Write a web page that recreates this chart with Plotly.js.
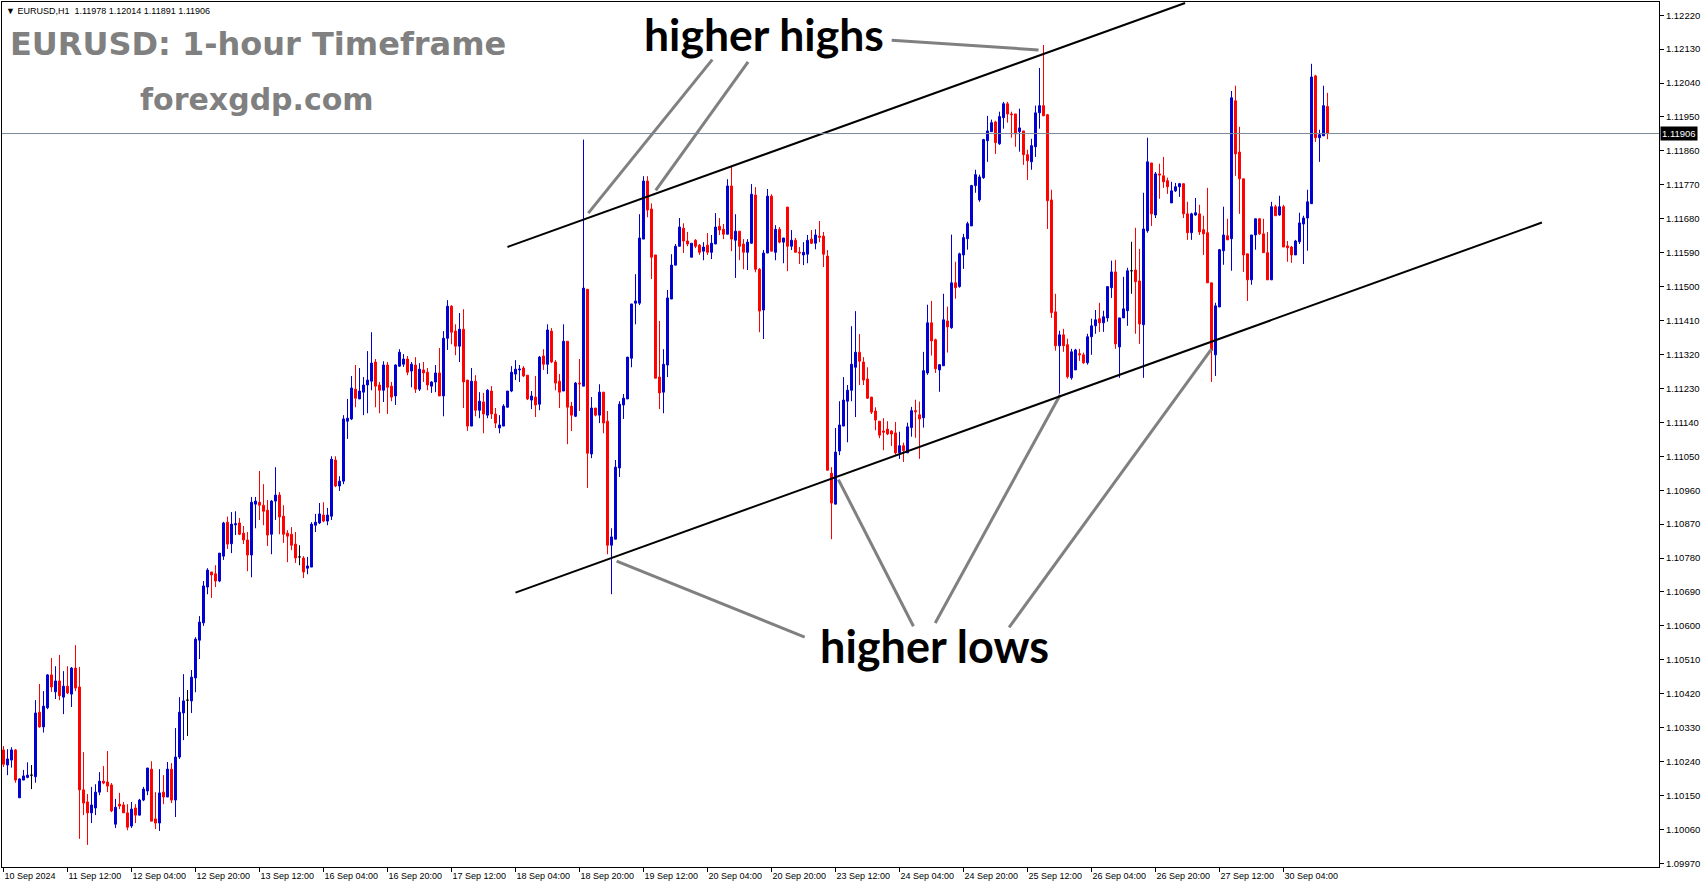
<!DOCTYPE html>
<html>
<head>
<meta charset="utf-8">
<script src="https://cdn.plot.ly/plotly-3.0.1.min.js"></script>
<style>
html,body{margin:0;padding:0;background:#fff;}
#chart{width:1705px;height:888px;}
</style>
</head>
<body>
<div id="chart"></div>
<script>
// ---- Data: EURUSD H1 bars (open, high, low, close) ----
const symbol = "EURUSD,H1";
const openP = [
1.10271,1.10231,1.10244,1.10271,1.10144,1.10191,1.10198,1.10204,1.10200,1.10371,
1.10332,1.10383,1.10470,1.10425,1.10454,1.10411,1.10440,1.10419,1.10488,1.10438,
1.10165,1.10133,1.10104,1.10117,1.10159,1.10188,1.10186,1.10178,1.10074,1.10127,
1.10125,1.10104,1.10069,1.10117,1.10098,1.10138,1.10162,1.10220,1.10088,1.10077,
1.10159,1.10146,1.10220,1.10138,1.10252,1.10369,1.10403,1.10401,1.10462,1.10562,
1.10608,1.10703,1.10743,1.10738,1.10719,1.10785,1.10875,1.10818,1.10868,1.10873,
1.10846,1.10828,1.10788,1.10923,1.10928,1.10920,1.10907,1.10843,1.10931,1.10947,
1.10891,1.10846,1.10843,1.10817,1.10783,1.10780,1.10753,1.10756,1.10867,1.10873,
1.10894,1.10878,1.10891,1.11040,1.10971,1.10984,1.11143,1.11149,1.11228,1.11202,
1.11220,1.11239,1.11249,1.11300,1.11239,1.11225,1.11292,1.11236,1.11210,1.11289,
1.11294,1.11308,1.11276,1.11292,1.11228,1.11279,1.11273,1.11236,1.11247,1.11271,
1.11210,1.11363,1.11448,1.11382,1.11342,1.11387,1.11252,1.11130,1.11249,1.11172,
1.11194,1.11159,1.11223,1.11162,1.11125,1.11130,1.11180,1.11223,1.11268,1.11279,
1.11284,1.11265,1.11199,1.11207,1.11188,1.11316,1.11294,1.11382,1.11300,1.11249,
1.11223,1.11355,1.11183,1.11156,1.11244,1.11236,1.11493,1.11056,1.11178,1.11159,
1.11220,1.11143,1.10814,1.10830,1.11019,1.11186,1.11202,1.11310,1.11456,1.11456,
1.11626,1.11780,1.11706,1.11584,1.11260,1.11220,1.11292,1.11467,1.11557,1.11607,
1.11655,1.11621,1.11578,1.11623,1.11610,1.11594,1.11610,1.11591,1.11613,1.11660,
1.11652,1.11639,1.11767,1.11623,1.11647,1.11613,1.11591,1.11615,1.11743,1.11546,
1.11438,1.11589,1.11740,1.11591,1.11652,1.11618,1.11711,1.11607,1.11623,1.11591,
1.11584,1.11586,1.11626,1.11615,1.11634,1.11634,1.11581,1.11005,1.10923,1.11064,
1.11130,1.11196,1.11225,1.11286,1.11326,1.11300,1.11255,1.11207,1.11170,1.11143,
1.11117,1.11122,1.11117,1.11112,1.11059,1.11078,1.11059,1.11126,1.11171,1.11160,
1.11152,1.11271,1.11404,1.11359,1.11279,1.11290,1.11409,1.11391,1.11510,1.11500,
1.11584,1.11627,1.11661,1.11768,1.11730,1.11789,1.11887,1.11911,1.11937,1.11879,
1.11948,1.11985,1.11958,1.11958,1.11911,1.11913,1.11850,1.11831,1.11871,1.11961,
1.11980,1.11956,1.11730,1.11433,1.11343,1.11372,1.11346,1.11258,1.11279,1.11322,
1.11319,1.11298,1.11367,1.11396,1.11415,1.11404,1.11417,1.11497,1.11539,1.11340,
1.11417,1.11436,1.11542,1.11544,1.11515,1.11399,1.11648,1.11828,1.11690,1.11799,
1.11794,1.11781,1.11722,1.11754,1.11765,1.11773,1.11693,1.11643,1.11690,1.11693,
1.11651,1.11643,1.11510,1.11319,1.11446,1.11595,1.11635,1.11627,1.11993,1.11857,
1.11786,1.11587,1.11518,1.11637,1.11680,1.11640,1.11590,1.11518,1.11712,1.11690,
1.11712,1.11608,1.11605,1.11584,1.11619,1.11666,1.11682,1.11720,1.12059,1.11895,
1.11900,1.11978];
const highP = [
1.10281,1.10273,1.10278,1.10273,1.10196,1.10218,1.10238,1.10231,1.10403,1.10446,
1.10427,1.10472,1.10515,1.10493,1.10523,1.10480,1.10493,1.10491,1.10549,1.10491,
1.10265,1.10154,1.10173,1.10180,1.10212,1.10228,1.10268,1.10183,1.10141,1.10157,
1.10133,1.10127,1.10133,1.10127,1.10141,1.10173,1.10223,1.10241,1.10159,1.10220,
1.10204,1.10239,1.10236,1.10329,1.10411,1.10472,1.10430,1.10483,1.10570,1.10626,
1.10719,1.10753,1.10743,1.10761,1.10793,1.10876,1.10890,1.10902,1.10904,1.10886,
1.10865,1.10849,1.10942,1.10942,1.11011,1.10976,1.10934,1.10934,1.11021,1.10955,
1.10920,1.10854,1.10862,1.10849,1.10814,1.10785,1.10783,1.10875,1.10897,1.10926,
1.10928,1.10913,1.11050,1.11050,1.10997,1.11159,1.11202,1.11263,1.11292,1.11284,
1.11260,1.11329,1.11379,1.11308,1.11247,1.11302,1.11300,1.11247,1.11294,1.11334,
1.11321,1.11316,1.11300,1.11313,1.11297,1.11300,1.11284,1.11249,1.11292,1.11337,
1.11382,1.11464,1.11451,1.11400,1.11430,1.11440,1.11252,1.11284,1.11265,1.11220,
1.11218,1.11228,1.11236,1.11178,1.11159,1.11188,1.11223,1.11289,1.11305,1.11292,
1.11289,1.11265,1.11223,1.11263,1.11316,1.11334,1.11400,1.11390,1.11305,1.11268,
1.11400,1.11355,1.11194,1.11247,1.11308,1.11890,1.11493,1.11207,1.11178,1.11241,
1.11220,1.11170,1.10859,1.11040,1.11196,1.11215,1.11313,1.11454,1.11533,1.11692,
1.11793,1.11793,1.11721,1.11584,1.11409,1.11334,1.11491,1.11586,1.11613,1.11682,
1.11668,1.11645,1.11615,1.11626,1.11613,1.11618,1.11642,1.11637,1.11695,1.11682,
1.11666,1.11785,1.11820,1.11692,1.11647,1.11626,1.11626,1.11772,1.11764,1.11549,
1.11597,1.11759,1.11745,1.11663,1.11658,1.11629,1.11711,1.11650,1.11629,1.11605,
1.11618,1.11637,1.11650,1.11652,1.11674,1.11645,1.11597,1.11021,1.11125,1.11196,
1.11260,1.11239,1.11395,1.11435,1.11374,1.11313,1.11286,1.11207,1.11180,1.11143,
1.11151,1.11143,1.11119,1.11141,1.11115,1.11086,1.11139,1.11181,1.11200,1.11195,
1.11327,1.11452,1.11462,1.11362,1.11293,1.11481,1.11447,1.11638,1.11566,1.11590,
1.11640,1.11672,1.11770,1.11810,1.11797,1.11892,1.11953,1.11943,1.11940,1.11964,
1.11990,1.11990,1.11964,1.11958,1.11972,1.11913,1.11863,1.11892,1.11980,1.12080,
1.12141,1.11958,1.11757,1.11481,1.11383,1.11388,1.11362,1.11335,1.11335,1.11335,
1.11325,1.11375,1.11415,1.11438,1.11457,1.11436,1.11500,1.11569,1.11571,1.11417,
1.11526,1.11550,1.11619,1.11656,1.11600,1.11749,1.11895,1.11828,1.11804,1.11826,
1.11844,1.11789,1.11778,1.11775,1.11775,1.11773,1.11725,1.11696,1.11735,1.11717,
1.11688,1.11762,1.11510,1.11457,1.11600,1.11712,1.11680,1.12019,1.12033,1.11924,
1.11786,1.11587,1.11637,1.11680,1.11682,1.11680,1.11645,1.11725,1.11717,1.11741,
1.11717,1.11621,1.11608,1.11624,1.11696,1.11688,1.11757,1.12091,1.12062,1.11916,
1.12033,1.12014];
const lowP = [
1.10226,1.10204,1.10224,1.10184,1.10144,1.10191,1.10196,1.10167,1.10184,1.10330,
1.10317,1.10379,1.10425,1.10406,1.10403,1.10366,1.10419,1.10385,1.10427,1.10035,
1.10098,1.10019,1.10077,1.10098,1.10151,1.10180,1.10159,1.10106,1.10064,1.10114,
1.10104,1.10058,1.10064,1.10077,1.10098,1.10135,1.10151,1.10082,1.10061,1.10056,
1.10127,1.10146,1.10130,1.10093,1.10247,1.10297,1.10308,1.10369,1.10424,1.10512,
1.10600,1.10684,1.10674,1.10703,1.10716,1.10775,1.10804,1.10793,1.10841,1.10841,
1.10817,1.10745,1.10729,1.10859,1.10881,1.10867,1.10812,1.10790,1.10881,1.10843,
1.10820,1.10769,1.10801,1.10767,1.10761,1.10727,1.10737,1.10756,1.10849,1.10870,
1.10875,1.10867,1.10881,1.10968,1.10958,1.10976,1.11096,1.11146,1.11180,1.11202,
1.11159,1.11164,1.11225,1.11180,1.11164,1.11194,1.11162,1.11196,1.11186,1.11287,
1.11287,1.11265,1.11233,1.11218,1.11223,1.11247,1.11225,1.11218,1.11220,1.11210,
1.11156,1.11332,1.11347,1.11318,1.11300,1.11178,1.11117,1.11130,1.11156,1.11151,
1.11111,1.11151,1.11149,1.11125,1.11111,1.11130,1.11180,1.11220,1.11252,1.11247,
1.11260,1.11199,1.11175,1.11154,1.11172,1.11279,1.11268,1.11297,1.11225,1.11178,
1.11223,1.11082,1.11117,1.11154,1.11170,1.11236,1.10966,1.11045,1.11156,1.11138,
1.11111,1.10790,1.10684,1.10830,1.10995,1.11149,1.11202,1.11286,1.11400,1.11451,
1.11626,1.11684,1.11520,1.11257,1.11175,1.11164,1.11260,1.11467,1.11557,1.11607,
1.11589,1.11607,1.11578,1.11602,1.11584,1.11570,1.11584,1.11573,1.11613,1.11637,
1.11626,1.11639,1.11594,1.11523,1.11570,1.11546,1.11544,1.11615,1.11538,1.11379,
1.11361,1.11589,1.11594,1.11570,1.11615,1.11562,1.11541,1.11597,1.11591,1.11560,
1.11557,1.11562,1.11613,1.11599,1.11618,1.11552,1.11013,1.10830,1.10923,1.11053,
1.11130,1.11087,1.11196,1.11154,1.11239,1.11239,1.11202,1.11162,1.11119,1.11098,
1.11066,1.11106,1.11077,1.11054,1.11043,1.11035,1.11059,1.11102,1.11099,1.11043,
1.11126,1.11266,1.11317,1.11271,1.11221,1.11290,1.11325,1.11388,1.11468,1.11497,
1.11547,1.11598,1.11661,1.11749,1.11725,1.11786,1.11831,1.11911,1.11852,1.11876,
1.11919,1.11935,1.11895,1.11871,1.11858,1.11823,1.11783,1.11810,1.11844,1.11919,
1.11953,1.11653,1.11417,1.11330,1.11216,1.11327,1.11256,1.11253,1.11279,1.11303,
1.11295,1.11293,1.11319,1.11375,1.11380,1.11380,1.11407,1.11470,1.11335,1.11258,
1.11417,1.11396,1.11481,1.11375,1.11348,1.11258,1.11643,1.11661,1.11682,1.11733,
1.11762,1.11746,1.11722,1.11751,1.11738,1.11682,1.11624,1.11624,1.11688,1.11637,
1.11584,1.11510,1.11247,1.11263,1.11446,1.11558,1.11624,1.11542,1.11794,1.11693,
1.11539,1.11462,1.11505,1.11598,1.11637,1.11590,1.11518,1.11518,1.11688,1.11688,
1.11605,1.11566,1.11563,1.11584,1.11613,1.11560,1.11595,1.11720,1.11884,1.11831,
1.11900,1.11891];
const closeP = [
1.10233,1.10247,1.10271,1.10191,1.10194,1.10202,1.10204,1.10204,1.10369,1.10332,
1.10387,1.10470,1.10438,1.10454,1.10415,1.10440,1.10422,1.10488,1.10435,1.10165,
1.10130,1.10104,1.10125,1.10159,1.10188,1.10183,1.10175,1.10109,1.10119,1.10122,
1.10104,1.10066,1.10114,1.10098,1.10138,1.10167,1.10223,1.10082,1.10077,1.10157,
1.10146,1.10220,1.10138,1.10252,1.10371,1.10401,1.10403,1.10464,1.10565,1.10610,
1.10706,1.10748,1.10735,1.10719,1.10793,1.10873,1.10817,1.10870,1.10871,1.10843,
1.10828,1.10788,1.10928,1.10931,1.10920,1.10904,1.10841,1.10931,1.10947,1.10889,
1.10843,1.10838,1.10814,1.10780,1.10783,1.10743,1.10759,1.10870,1.10875,1.10897,
1.10878,1.10894,1.11042,1.10971,1.10984,1.11149,1.11151,1.11231,1.11204,1.11223,
1.11239,1.11252,1.11297,1.11236,1.11225,1.11292,1.11233,1.11207,1.11292,1.11326,
1.11308,1.11273,1.11294,1.11228,1.11281,1.11271,1.11239,1.11247,1.11271,1.11210,
1.11363,1.11448,1.11379,1.11342,1.11387,1.11247,1.11130,1.11249,1.11172,1.11196,
1.11162,1.11225,1.11162,1.11138,1.11133,1.11183,1.11223,1.11273,1.11281,1.11281,
1.11263,1.11202,1.11210,1.11186,1.11313,1.11294,1.11385,1.11300,1.11244,1.11220,
1.11355,1.11180,1.11159,1.11244,1.11242,1.11496,1.11058,1.11178,1.11159,1.11220,
1.11138,1.10814,1.10836,1.11021,1.11188,1.11204,1.11313,1.11454,1.11462,1.11629,
1.11780,1.11703,1.11578,1.11257,1.11218,1.11294,1.11470,1.11557,1.11607,1.11658,
1.11621,1.11613,1.11615,1.11607,1.11591,1.11605,1.11591,1.11615,1.11658,1.11650,
1.11639,1.11767,1.11626,1.11647,1.11607,1.11591,1.11618,1.11745,1.11546,1.11435,
1.11589,1.11740,1.11594,1.11652,1.11618,1.11629,1.11607,1.11623,1.11591,1.11589,
1.11591,1.11623,1.11615,1.11637,1.11631,1.11586,1.11013,1.10926,1.11061,1.11133,
1.11199,1.11225,1.11294,1.11326,1.11302,1.11252,1.11204,1.11167,1.11146,1.11106,
1.11114,1.11109,1.11109,1.11059,1.11078,1.11065,1.11128,1.11171,1.11168,1.11149,
1.11277,1.11404,1.11356,1.11282,1.11293,1.11412,1.11393,1.11510,1.11497,1.11587,
1.11630,1.11667,1.11768,1.11797,1.11791,1.11890,1.11913,1.11935,1.11882,1.11951,
1.11985,1.11958,1.11956,1.11905,1.11921,1.11850,1.11834,1.11874,1.11961,1.11980,
1.11953,1.11728,1.11431,1.11343,1.11372,1.11343,1.11261,1.11327,1.11332,1.11319,
1.11298,1.11367,1.11396,1.11412,1.11404,1.11420,1.11500,1.11539,1.11348,1.11417,
1.11441,1.11542,1.11542,1.11513,1.11401,1.11653,1.11831,1.11693,1.11799,1.11796,
1.11778,1.11765,1.11754,1.11765,1.11773,1.11693,1.11643,1.11693,1.11696,1.11645,
1.11640,1.11510,1.11330,1.11449,1.11598,1.11637,1.11624,1.12001,1.11852,1.11786,
1.11584,1.11518,1.11637,1.11680,1.11640,1.11590,1.11518,1.11712,1.11688,1.11712,
1.11605,1.11603,1.11584,1.11621,1.11669,1.11682,1.11725,1.12056,1.11895,1.11903,
1.11980,1.11906];

// time-axis labels (one every 16 hourly bars)
const timeLabels = ["10 Sep 2024","11 Sep 12:00","12 Sep 04:00","12 Sep 20:00","13 Sep 12:00",
"16 Sep 04:00","16 Sep 20:00","17 Sep 12:00","18 Sep 04:00","18 Sep 20:00","19 Sep 12:00",
"20 Sep 04:00","20 Sep 20:00","23 Sep 12:00","24 Sep 04:00","24 Sep 20:00","25 Sep 12:00",
"26 Sep 04:00","26 Sep 20:00","27 Sep 12:00","30 Sep 04:00"];
const labelEvery = 16;
// price-axis labels
const priceTicks = [1.12220,1.12130,1.12040,1.11950,1.11860,1.11770,1.11680,1.11590,1.11500,
1.11410,1.11320,1.11230,1.11140,1.11050,1.10960,1.10870,1.10780,1.10690,1.10600,1.10510,
1.10420,1.10330,1.10240,1.10150,1.10060,1.09970];
const priceRange = [1.099604, 1.12255];
const barRange = [-0.375, 413.875];

// trend channel (bar index, price)
const upperChannel = {bar:[126.0, 295.4], price:[1.116051, 1.122524]};
const lowerChannel = {bar:[128.0, 384.6], price:[1.106883, 1.116701]};
// pointer lines to swing points (bar index, price)
const pointers = [
  {bar:[146.2,177.2], price:[1.11695,1.12102]},
  {bar:[163.05,186.15], price:[1.117555,1.120959]},
  {bar:[222.05,258.75], price:[1.121537,1.121277]},
  {bar:[153.28,200.3], price:[1.107719,1.10570]},
  {bar:[208.73,227.48], price:[1.109881,1.105989]},
  {bar:[264.18,232.93], price:[1.112133,1.106075]},
  {bar:[301.98,251.4], price:[1.113343,1.10596]}
];

// ---- Build ----
const n = openP.length;
const xs = openP.map((_, i) => i);
const normIdx = xs.filter(i => openP[i] !== closeP[i]);
const dojiIdx = xs.filter(i => openP[i] === closeP[i]);
const pick = (arr, idx) => idx.map(i => arr[i]);

const BLUE = '#0000d0', RED = '#ff0000';
const mainTrace = {
  type:'candlestick', x: pick(xs,normIdx), open: pick(openP,normIdx), high: pick(highP,normIdx),
  low: pick(lowP,normIdx), close: pick(closeP,normIdx),
  increasing:{line:{color:BLUE,width:1}, fillcolor:BLUE},
  decreasing:{line:{color:RED,width:1}, fillcolor:RED},
  whiskerwidth:0, hoverinfo:'skip', showlegend:false
};
const dojiTrace = {
  type:'candlestick', x: pick(xs,dojiIdx), open: pick(openP,dojiIdx), high: pick(highP,dojiIdx),
  low: pick(lowP,dojiIdx), close: pick(closeP,dojiIdx),
  increasing:{line:{color:'#000',width:1}, fillcolor:'#000'},
  decreasing:{line:{color:'#000',width:1}, fillcolor:'#000'},
  whiskerwidth:0, hoverinfo:'skip', showlegend:false
};

const W = 1705, H = 888;
const M = {l:2, r:46, t:2, b:21};
const pw = W - M.l - M.r, ph = H - M.t - M.b;
const px = v => (v - M.l) / pw;
const py = v => (H - M.b - v) / ph;

const shapes = [];
const GRAY = '#808080';
pointers.forEach(p => shapes.push({type:'line', xref:'x', yref:'y',
  x0:p.bar[0], y0:p.price[0], x1:p.bar[1], y1:p.price[1], line:{color:GRAY, width:3}}));
[upperChannel, lowerChannel].forEach(c => shapes.push({type:'line', xref:'x', yref:'y',
  x0:c.bar[0], y0:c.price[0], x1:c.bar[1], y1:c.price[1], line:{color:'#000', width:2}}));
const last = n - 1;
shapes.push({type:'line', xref:'paper', yref:'y', x0:0, x1:1, y0:closeP[last], y1:closeP[last],
  line:{color:'#7a8899', width:1}});

const f5 = v => v.toFixed(5);
const annotations = [
  {xref:'paper', yref:'paper', x:px(4), y:py(11), xanchor:'left', yanchor:'middle', showarrow:false,
   text:'▼ ' + symbol + '  ' + f5(openP[last]) + ' ' + f5(highP[last]) + ' ' + f5(lowP[last]) + ' ' + f5(closeP[last]),
   font:{family:'Liberation Sans, DejaVu Sans', size:9, color:'#000'}},
  {xref:'paper', yref:'paper', x:px(8), y:py(44), xanchor:'left', yanchor:'middle', showarrow:false,
   text:'<b>EURUSD: 1-hour Timeframe</b>', font:{family:'DejaVu Sans', size:32, color:'#808080'}},
  {xref:'paper', yref:'paper', x:px(257), y:py(99), xanchor:'center', yanchor:'middle', showarrow:false,
   text:'<b>forexgdp.com</b>', font:{family:'DejaVu Sans', size:30, color:'#808080'}},
  {xref:'paper', yref:'paper', x:px(764), y:py(34), xanchor:'center', yanchor:'middle', showarrow:false,
   text:'<b>higher highs</b>', font:{family:'Lato', size:44.5, color:'#000'}},
  {xref:'paper', yref:'paper', x:px(934), y:py(646), xanchor:'center', yanchor:'middle', showarrow:false,
   text:'<b>higher lows</b>', font:{family:'Lato', size:45, color:'#000'}},
  {xref:'paper', yref:'y', x:1, y:closeP[last], xanchor:'left', yanchor:'middle', showarrow:false,
   text:f5(closeP[last]), bgcolor:'#000', borderpad:1, xshift:1,
   font:{family:'Liberation Sans', size:9.5, color:'#fff'}}
];

const layout = {
  width:W, height:H, margin:{l:M.l, r:M.r, t:M.t, b:M.b, pad:0},
  paper_bgcolor:'#fff', plot_bgcolor:'#fff', showlegend:false,
  xaxis:{type:'linear', range:barRange, fixedrange:true, rangeslider:{visible:false},
    tickmode:'array', tickvals: timeLabels.map((_, i) => i*labelEvery), ticktext: timeLabels,
    ticks:'outside', ticklen:4, tickcolor:'#000', tickwidth:1, ticklabelposition:'outside right',
    tickangle:0, tickfont:{family:'Liberation Sans', size:9, color:'#000'},
    showgrid:false, zeroline:false, showline:true, linecolor:'#000', linewidth:1, mirror:true},
  yaxis:{side:'right', range:priceRange, fixedrange:true,
    tickmode:'array', tickvals: priceTicks, ticktext: priceTicks.map(f5),
    ticks:'outside', ticklen:4, tickcolor:'#000', tickwidth:1,
    tickfont:{family:'Liberation Sans', size:9.5, color:'#000'},
    showgrid:false, zeroline:false, showline:true, linecolor:'#000', linewidth:1, mirror:true},
  shapes, annotations
};

Plotly.newPlot('chart', [mainTrace, dojiTrace], layout, {staticPlot:true, displayModeBar:false});
</script>
</body>
</html>
